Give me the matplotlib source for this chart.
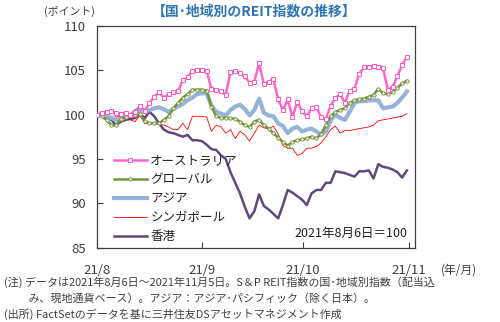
import matplotlib
matplotlib.use('Agg')
import matplotlib.pyplot as plt

plt.rcParams['font.family'] = ['Noto Sans CJK JP', 'DejaVu Sans']

# trading days from 2021/8/6 to 2021/11/5 (index)
days = list(range(66))

australia = [100.0, 100.2, 100.3, 100.4, 100.2, 100.1, 100.2, 100.0, 100.3, 101.0,
             100.4, 101.3, 102.0, 102.5, 101.9, 102.3, 102.5, 102.6, 103.9, 104.2,
             104.9, 105.0, 105.0, 104.9, 102.9, 102.8, 102.6, 102.2, 104.8, 104.9,
             104.7, 104.3, 103.6, 103.7, 105.8, 103.4, 103.7, 104.0, 101.7, 100.5,
             101.7, 99.7, 101.4, 100.4, 99.8, 100.7, 100.8, 99.7, 99.5, 101.0,
             101.9, 102.3, 101.3, 102.7, 102.9, 104.6, 105.3, 105.4, 105.5, 105.4,
             105.2, 102.8, 103.1, 104.3, 105.6, 106.5]
global_ = [100.0, 99.8, 99.4, 98.8, 98.8, 99.5, 99.7, 99.9, 100.0, 100.1,
           99.3, 99.0, 99.0, 99.0, 99.4, 99.8, 100.7, 101.3, 101.9, 102.3,
           102.8, 102.8, 102.8, 102.7, 100.9, 99.8, 99.6, 99.6, 99.6, 99.5,
           99.2, 98.8, 98.6, 99.2, 99.4, 98.8, 98.4, 97.9, 97.4, 96.9,
           96.5, 96.9, 97.1, 97.2, 97.3, 97.5, 97.3, 97.8, 98.8, 99.8,
           100.3, 100.5, 100.7, 101.3, 101.6, 101.7, 101.8, 102.0, 102.2, 102.9,
           102.4, 102.3, 102.5, 103.0, 103.5, 103.8]
asia = [100.0, 99.9, 99.8, 99.6, 99.4, 99.5, 99.7, 99.9, 100.4, 100.5,
        100.3, 100.5, 100.7, 100.8, 100.6, 100.3, 100.6, 100.9, 101.2, 101.6,
        101.9, 102.3, 102.4, 102.4, 101.0, 100.3, 100.1, 99.9, 100.5, 100.9,
        101.1, 100.6, 99.9, 100.5, 101.8, 100.2, 99.9, 99.8, 99.0, 98.7,
        97.9, 98.4, 98.6, 98.1, 98.3, 98.4, 98.1, 97.7, 98.1, 99.3,
        100.0, 99.6, 99.4, 100.3, 101.3, 101.5, 101.5, 101.6, 101.6, 101.6,
        100.7, 100.8, 100.9, 101.3, 101.9, 102.6]
singapore = [100.0, 100.2, 100.4, 100.5, 99.7, 99.8, 99.5, 99.4, 99.2, 99.9,
             99.0, 99.0, 99.0, 98.9, 98.8, 98.6, 98.3, 98.3, 99.0, 98.3,
             99.8, 99.8, 99.8, 99.7, 98.1, 98.8, 98.6, 97.9, 98.3, 97.3,
             98.1, 97.7, 97.0, 97.9, 98.8, 98.5, 98.4, 98.7, 97.8, 96.5,
             96.2, 96.2, 95.4, 95.6, 96.2, 96.2, 96.4, 96.8, 97.5, 98.3,
             98.7, 97.9, 98.2, 98.2, 98.3, 98.4, 98.5, 98.6, 98.8, 99.3,
             99.4, 99.5, 99.6, 99.7, 99.8, 100.1]
hongkong = [100.0, 99.9, 99.8, 99.4, 98.8, 99.2, 99.4, 99.5, 99.6, 100.1,
            99.6, 100.3, 99.8, 99.0, 98.3, 98.0, 97.9, 97.7, 97.5, 97.7,
            97.1, 97.1, 97.0, 96.6, 96.1, 96.0, 95.4, 95.0, 93.5, 92.3,
            91.1, 89.6, 88.3, 89.1, 91.0, 89.7, 89.3, 88.8, 88.3, 89.8,
            91.5, 91.2, 90.8, 90.4, 89.8, 91.1, 91.5, 91.5, 92.3, 92.3,
            93.6, 93.5, 93.4, 93.2, 93.0, 93.6, 93.6, 93.7, 92.8, 94.4,
            94.1, 94.0, 93.8, 93.5, 92.9, 93.7]

month_ticks = [0, 22, 43.2, 65.4]
month_labels = ['21/8', '21/9', '21/10', '21/11']

text_color = '#404040'

fig = plt.figure(figsize=(5, 3.22), dpi=100)
ax = fig.add_axes([0.194, 0.231, 0.636, 0.689])

ax.plot(days, hongkong, color='#5f4a7d', lw=1.8, label='香港', zorder=2)
ax.plot(days, singapore, color='#ff0000', lw=0.6, label='シンガポール', zorder=3)
ax.plot(days, asia, color='#95b3d7', lw=3.0, label='アジア', zorder=4)
ax.plot(days, global_, color='#77933c', lw=1.8, marker='o', ms=2.4,
        mfc='#e8f0d8', mec='#77933c', mew=0.6, label='グローバル', zorder=5)
ax.plot(days, australia, color='#ff66cc', lw=1.8, marker='s', ms=3.3,
        mfc='white', mec='#ff55c0', mew=0.7, label='オーストラリア', zorder=6)

ax.set_xlim(0, 66.7)
ax.set_ylim(85, 110)
ax.set_yticks([85, 90, 95, 100, 105, 110])
ax.set_xticks(month_ticks)
ax.set_xticklabels(month_labels)
ax.tick_params(axis='both', direction='in', length=4, width=0.8,
               labelsize=9.5, colors=text_color, labelcolor=text_color)
ax.tick_params(axis='x', pad=12)
ax.tick_params(axis='y', pad=8)
for s in ax.spines.values():
    s.set_color('#404040')
    s.set_linewidth(0.9)

handles, labels = ax.get_legend_handles_labels()
order = [4, 3, 2, 1, 0]
leg = ax.legend([handles[i] for i in order], [labels[i] for i in order],
                loc='lower left', bbox_to_anchor=(0.03, -0.015), frameon=False,
                fontsize=9, handlelength=2.6, handletextpad=0.3,
                labelspacing=0.48, borderaxespad=0.2)
for t in leg.get_texts():
    t.set_color('#202020')

ax.text(0.975, 0.035, '2021年8月6日＝100', transform=ax.transAxes,
        ha='right', va='bottom', fontsize=9, color='#202020')

fig.text(0.19, 0.965, '(ポイント)', ha='right', va='center', fontsize=7.8, color=text_color)
fig.text(0.508, 0.965, '【国･地域別のREIT指数の推移】', ha='center', va='center',
         fontsize=10, color='#2e75b6', fontweight='bold')
fig.text(0.918, 0.162, '(年/月)', ha='center', va='center', fontsize=8.5, color=text_color)

notes = ['(注) データは2021年8月6日～2021年11月5日。S＆P REIT指数の国･地域別指数（配当込',
         '　　 み、現地通貨ベース）。アジア：アジア･パシフィック（除く日本）。',
         '(出所) FactSetのデータを基に三井住友DSアセットマネジメント作成']
for i, line in enumerate(notes):
    fig.text(0.008, 0.122 - i * 0.049, line, ha='left', va='center',
             fontsize=7.9, color=text_color)

fig.savefig('out.png', dpi=100)
